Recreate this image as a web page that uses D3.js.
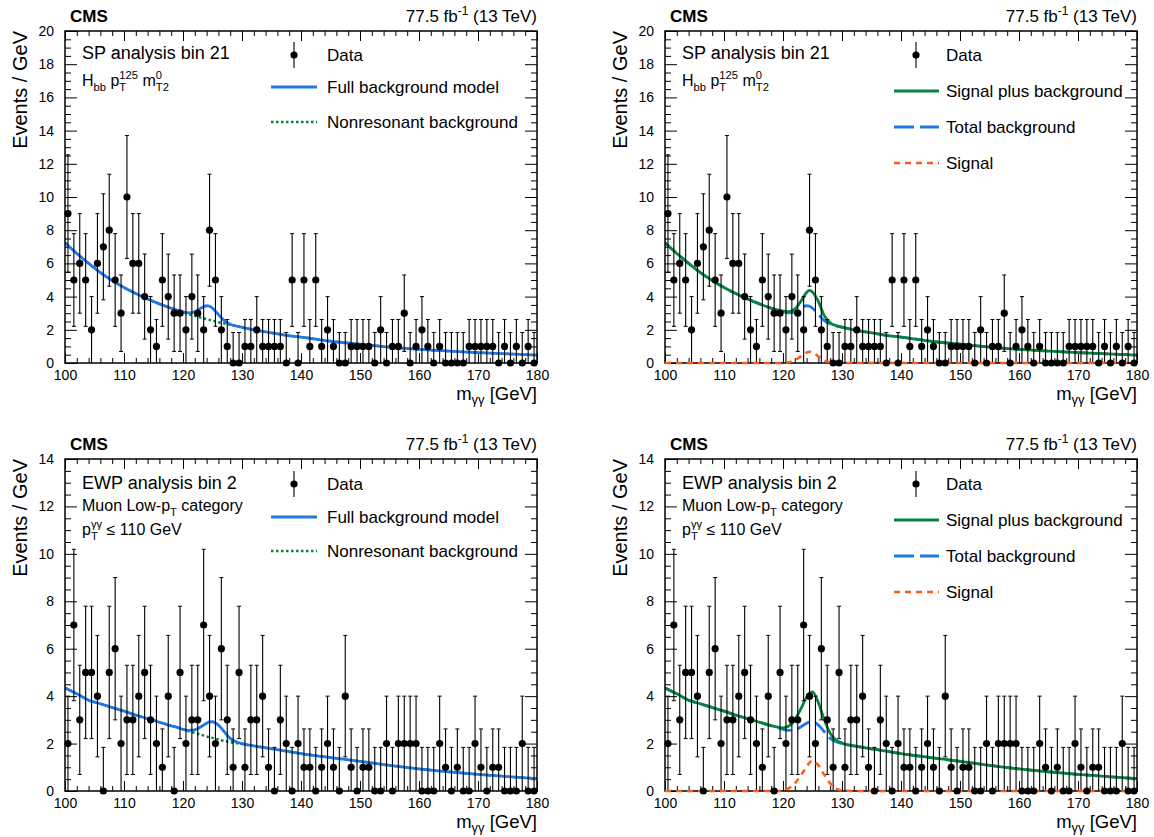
<!DOCTYPE html>
<html lang="en">
<head>
<meta charset="utf-8">
<title>CMS diphoton mass fits</title>
<script src="https://d3js.org/d3.v7.min.js"></script>
<style>
  body { margin: 0; background: #fff; }
  text { font-family: "Liberation Sans", Arial, Helvetica, sans-serif; fill: #000; white-space: pre; }
</style>
</head>
<body>
<script>
// ---------------- data ----------------
var massMin = 100, massMax = 180;
var binCenters = d3.range(100.5, 180, 1);   // 1 GeV bins

var countsSP = [9, 5, 6, 5, 2, 6, 7, 8, 5, 3,
                10, 6, 6, 4, 2, 1, 5, 4, 3, 3,
                2, 4, 3, 2, 8, 5, 2, 1, 0, 0,
                1, 1, 2, 1, 1, 1, 1, 0, 5, 0,
                5, 1, 5, 1, 2, 1, 0, 0, 1, 1,
                1, 1, 0, 2, 0, 1, 1, 3, 0, 1,
                2, 1, 0, 1, 0, 0, 0, 0, 1, 1,
                1, 1, 1, 0, 1, 0, 1, 0, 1, 0];

var countsEWP = [2, 7, 3, 5, 5, 4, 0, 5, 6, 2,
                 3, 3, 4, 5, 3, 2, 1, 4, 0, 5,
                 2, 3, 3, 7, 4, 2, 6, 3, 1, 5,
                 1, 3, 3, 4, 1, 0, 3, 2, 0, 2,
                 1, 1, 0, 1, 2, 1, 0, 4, 1, 0,
                 1, 1, 0, 0, 2, 0, 2, 2, 2, 2,
                 0, 0, 0, 2, 1, 0, 1, 0, 0, 2,
                 1, 0, 1, 1, 0, 0, 0, 2, 0, 0];

// mass points where the fit curves were read
var curveMass = [100, 102, 104, 106, 108, 110, 112, 114, 116, 118, 119, 120, 121, 122, 123, 124, 124.5, 125,
                 126, 127, 128, 129, 130, 132, 134, 136, 138, 140, 145, 150, 155, 160, 165, 170, 175, 180];

var nonresSP = [7.25, 6.6, 6.0, 5.45, 4.97, 4.55, 4.18, 3.85, 3.56, 3.3, 3.17, 3.05, 2.94, 2.84, 2.74, 2.64, 2.6, 2.55,
                2.46, 2.38, 2.3, 2.22, 2.15, 2.0, 1.87, 1.76, 1.64, 1.56, 1.31, 1.13, 0.96, 0.82, 0.72, 0.63, 0.55, 0.48];
var fullBkgSP = [7.25, 6.6, 6.0, 5.45, 4.97, 4.55, 4.18, 3.85, 3.56, 3.3, 3.18, 3.08, 3.02, 3.08, 3.3, 3.45, 3.42, 3.3,
                 2.92, 2.55, 2.34, 2.23, 2.15, 2.0, 1.87, 1.76, 1.64, 1.56, 1.31, 1.13, 0.96, 0.82, 0.72, 0.63, 0.55, 0.48];
var sigPlusBkgSP = [7.25, 6.6, 6.0, 5.45, 4.97, 4.55, 4.18, 3.85, 3.56, 3.31, 3.2, 3.12, 3.1, 3.25, 3.7, 4.25, 4.38, 4.28,
                    3.7, 2.85, 2.42, 2.25, 2.16, 2.0, 1.87, 1.76, 1.64, 1.56, 1.31, 1.13, 0.96, 0.82, 0.72, 0.63, 0.55, 0.48];
var signalSP = [0, 0, 0, 0, 0, 0, 0, 0, 0, 0, 0, 0, 0.04, 0.15, 0.4, 0.63, 0.68, 0.63,
                0.4, 0.15, 0.04, 0, 0, 0, 0, 0, 0, 0, 0, 0, 0, 0, 0, 0, 0, 0];

var nonresEWP = [4.35, 4.1, 3.83, 3.68, 3.52, 3.37, 3.2, 3.05, 2.9, 2.75, 2.68, 2.6, 2.52, 2.45, 2.38, 2.3, 2.27, 2.24,
                 2.17, 2.11, 2.06, 2.02, 1.98, 1.9, 1.82, 1.74, 1.66, 1.58, 1.41, 1.25, 1.08, 0.93, 0.81, 0.7, 0.61, 0.52];
var fullBkgEWP = [4.35, 4.1, 3.83, 3.68, 3.52, 3.37, 3.2, 3.05, 2.9, 2.75, 2.68, 2.6, 2.56, 2.58, 2.7, 2.86, 2.91, 2.92,
                  2.78, 2.5, 2.22, 2.08, 2.0, 1.9, 1.82, 1.74, 1.66, 1.58, 1.41, 1.25, 1.08, 0.93, 0.81, 0.7, 0.61, 0.52];
var sigPlusBkgEWP = [4.35, 4.1, 3.83, 3.68, 3.52, 3.37, 3.2, 3.05, 2.9, 2.76, 2.7, 2.66, 2.74, 3.0, 3.45, 3.95, 4.12, 4.18,
                     3.72, 3.0, 2.43, 2.15, 2.02, 1.9, 1.82, 1.74, 1.66, 1.58, 1.41, 1.25, 1.08, 0.93, 0.81, 0.7, 0.61, 0.52];
var signalEWP = [0, 0, 0, 0, 0, 0, 0, 0, 0, 0, 0, 0.03, 0.12, 0.32, 0.65, 1.02, 1.2, 1.28,
                 1.08, 0.68, 0.32, 0.1, 0.02, 0, 0, 0, 0, 0, 0, 0, 0, 0, 0, 0, 0, 0];

var xTickLabels = [100, 110, 120, 130, 140, 150, 160, 170, 180];
var yTicksSP = [0, 2, 4, 6, 8, 10, 12, 14, 16, 18, 20];
var yTicksEWP = [0, 2, 4, 6, 8, 10, 12, 14];

// ---------------- styling ----------------
var W = 1154, H = 837, frameW = 472, frameH = 332;
var blue = "#1e78e6", green = "#07833f", orange = "#ff5a1e";

var svg = d3.select("body").append("svg").attr("width", W).attr("height", H);

// Poisson-style interval used for the data points
function errLow(n) { return n === 0 ? 0 : Math.max(0, n - 0.5 - Math.sqrt(n + 0.25)); }
function errHigh(n) { return n === 0 ? 1.84 : n + 0.5 + Math.sqrt(n + 0.25); }

// text with ROOT-like sub/superscripts
function rich(g, x, y, parts, size, anchor, subShift) {
    var grp = g.append("g");
    var cx = 0;
    var sShift = subShift || 0.3;
    parts.forEach(function (p) {
        if (typeof p === "string") {
            var t = grp.append("text").attr("x", cx).attr("y", 0).attr("font-size", size).text(p);
            cx += t.node().getComputedTextLength();
        } else {
            var w = 0;
            if (p.sub) {
                var s = grp.append("text").attr("x", cx).attr("y", size * sShift)
                    .attr("font-size", size * 0.7).text(p.sub);
                w = Math.max(w, s.node().getComputedTextLength());
            }
            if (p.sup) {
                var u = grp.append("text").attr("x", cx).attr("y", -size * 0.42)
                    .attr("font-size", size * 0.7).text(p.sup);
                w = Math.max(w, u.node().getComputedTextLength());
            }
            cx += w;
        }
    });
    var dx = anchor === "end" ? -cx : 0;
    grp.attr("transform", "translate(" + (x + dx) + "," + y + ")");
    return grp;
}

var panels = [
    { left: 65, top: 31, counts: countsSP, yTicks: yTicksSP, nonres: nonresSP, full: fullBkgSP,
      sb: sigPlusBkgSP, sig: signalSP, withSignal: false,
      title: "SP analysis bin 21",
      lines: [[["H", { sub: "bb" }, " p", { sub: "T", sup: "125" }, " m", { sub: "T2", sup: "0" }], 55]] },
    { left: 665, top: 31, counts: countsSP, yTicks: yTicksSP, nonres: nonresSP, full: fullBkgSP,
      sb: sigPlusBkgSP, sig: signalSP, withSignal: true,
      title: "SP analysis bin 21",
      lines: [[["H", { sub: "bb" }, " p", { sub: "T", sup: "125" }, " m", { sub: "T2", sup: "0" }], 55]] },
    { left: 65, top: 459, counts: countsEWP, yTicks: yTicksEWP, nonres: nonresEWP, full: fullBkgEWP,
      sb: sigPlusBkgEWP, sig: signalEWP, withSignal: false,
      title: "EWP analysis bin 2",
      lines: [[["Muon Low-p", { sub: "T" }, " category"], 52], [["p", { sub: "T", sup: "\u03b3\u03b3" }, " \u2264 110 GeV"], 76]] },
    { left: 665, top: 459, counts: countsEWP, yTicks: yTicksEWP, nonres: nonresEWP, full: fullBkgEWP,
      sb: sigPlusBkgEWP, sig: signalEWP, withSignal: true,
      title: "EWP analysis bin 2",
      lines: [[["Muon Low-p", { sub: "T" }, " category"], 52], [["p", { sub: "T", sup: "\u03b3\u03b3" }, " \u2264 110 GeV"], 76]] }
];

panels.forEach(function (p, i) {
    var g = svg.append("g").attr("transform", "translate(" + p.left + "," + p.top + ")");
    var yMax = d3.max(p.yTicks);
    var x = d3.scaleLinear().domain([massMin, massMax]).range([0, frameW]);
    var y = d3.scaleLinear().domain([0, yMax]).range([frameH, 0]);

    g.append("clipPath").attr("id", "clip" + i)
        .append("rect").attr("width", frameW).attr("height", frameH);
    // signal may sit on the x axis, so its clip reaches a bit below the frame
    g.append("clipPath").attr("id", "clipS" + i)
        .append("rect").attr("width", frameW).attr("height", frameH + 3);

    // ticks: major + minor on all four sides, pointing inwards
    var xMinor = d3.range(massMin, massMax + 0.1, 2).filter(function (v) { return v % 10 !== 0; });
    var yMinor = d3.range(0, yMax, 0.5).filter(function (v) { return v % 2 !== 0; });

    var xb = g.append("g").attr("transform", "translate(0," + frameH + ")")
        .call(d3.axisBottom(x).tickValues(xTickLabels).tickSize(-10).tickSizeOuter(0).tickPadding(7));
    xb.attr("font-size", 14);
    g.append("g").attr("transform", "translate(0," + frameH + ")")
        .call(d3.axisBottom(x).tickValues(xMinor).tickSize(-5).tickSizeOuter(0).tickFormat(""));
    g.append("g").call(d3.axisTop(x).tickValues(xTickLabels).tickSize(-10).tickSizeOuter(0).tickFormat(""));
    g.append("g").call(d3.axisTop(x).tickValues(xMinor).tickSize(-5).tickSizeOuter(0).tickFormat(""));

    var yl = g.append("g").call(d3.axisLeft(y).tickValues(p.yTicks).tickSize(-12).tickSizeOuter(0).tickPadding(11));
    yl.attr("font-size", 14);
    g.append("g").call(d3.axisLeft(y).tickValues(yMinor).tickSize(-6).tickSizeOuter(0).tickFormat(""));
    g.append("g").attr("transform", "translate(" + frameW + ",0)")
        .call(d3.axisRight(y).tickValues(p.yTicks).tickSize(-12).tickSizeOuter(0).tickFormat(""));
    g.append("g").attr("transform", "translate(" + frameW + ",0)")
        .call(d3.axisRight(y).tickValues(yMinor).tickSize(-6).tickSizeOuter(0).tickFormat(""));
    g.selectAll(".domain").remove();
    g.selectAll(".tick line").attr("stroke", "#000");

    // curves
    var line = d3.line()
        .x(function (d) { return x(d[0]); })
        .y(function (d) { return y(d[1]); })
        .curve(d3.curveMonotoneX);
    var curves = g.append("g").attr("clip-path", "url(#clip" + i + ")").attr("fill", "none");

    if (p.withSignal) {
        curves.append("path").attr("d", line(d3.zip(curveMass, p.full)))
            .attr("stroke", blue).attr("stroke-width", 2.8).attr("stroke-dasharray", "14,6");
        curves.append("path").attr("d", line(d3.zip(curveMass, p.sb)))
            .attr("stroke", green).attr("stroke-width", 2.8);
    } else {
        curves.append("path").attr("d", line(d3.zip(curveMass, p.nonres)))
            .attr("stroke", green).attr("stroke-width", 2.5).attr("stroke-dasharray", "2.5,2.5");
        curves.append("path").attr("d", line(d3.zip(curveMass, p.full)))
            .attr("stroke", blue).attr("stroke-width", 2.8);
    }

    // data points with error bars
    var pts = g.append("g").attr("clip-path", "url(#clip" + i + ")");
    var data = d3.zip(binCenters, p.counts);
    pts.selectAll("line.bar").data(data).enter().append("line").attr("class", "bar")
        .attr("x1", function (d) { return x(d[0]); }).attr("x2", function (d) { return x(d[0]); })
        .attr("y1", function (d) { return y(errLow(d[1])); }).attr("y2", function (d) { return y(errHigh(d[1])); })
        .attr("stroke", "#000").attr("stroke-width", 1.1);
    pts.selectAll("line.cap").data(data).enter().append("line").attr("class", "cap")
        .attr("x1", function (d) { return x(d[0]) - 2; }).attr("x2", function (d) { return x(d[0]) + 2; })
        .attr("y1", function (d) { return y(errHigh(d[1])); }).attr("y2", function (d) { return y(errHigh(d[1])); })
        .attr("stroke", "#000").attr("stroke-width", 1);
    pts.selectAll("line.capl").data(data.filter(function (d) { return errLow(d[1]) > 0; })).enter()
        .append("line").attr("class", "capl")
        .attr("x1", function (d) { return x(d[0]) - 2; }).attr("x2", function (d) { return x(d[0]) + 2; })
        .attr("y1", function (d) { return y(errLow(d[1])); }).attr("y2", function (d) { return y(errLow(d[1])); })
        .attr("stroke", "#000").attr("stroke-width", 1);

    // frame
    g.append("rect").attr("width", frameW).attr("height", frameH)
        .attr("fill", "none").attr("stroke", "#000").attr("stroke-width", 1.5);

    // signal drawn over the axis line, as in the reference
    if (p.withSignal) {
        g.append("g").attr("clip-path", "url(#clipS" + i + ")").append("path")
            .attr("d", line(d3.zip(curveMass, p.sig)))
            .attr("fill", "none").attr("stroke", orange).attr("stroke-width", 2.5)
            .attr("stroke-dasharray", "6,5");
    }

    g.append("g").selectAll("circle").data(data).enter().append("circle")
        .attr("cx", function (d) { return x(d[0]); })
        .attr("cy", function (d) { return y(d[1]); })
        .attr("r", 3.6).attr("fill", "#000");

    // header texts
    g.append("text").attr("x", 5).attr("y", -9).attr("font-size", 17).attr("font-weight", "bold").text("CMS");
    rich(g, frameW, -9, ["77.5 fb", { sup: "-1" }, " (13 TeV)"], 17, "end");

    // axis titles
    g.append("text").attr("transform", "translate(-38,0) rotate(-90)")
        .attr("text-anchor", "end").attr("font-size", 20).text("Events / GeV");
    rich(g, frameW, frameH + 37, ["m", { sub: "\u03b3\u03b3" }, " [GeV]"], 18.5, "end", 0.2);

    // category labels
    g.append("text").attr("x", 17).attr("y", p.top > 100 ? 30 : 28).attr("font-size", 18).text(p.title);
    p.lines.forEach(function (l) { rich(g, 17, l[1], l[0], 16); });

    // legend
    var lg = g.append("g");
    var mx, lx0, lx1, tx, rows;
    var dy = p.top > 100 ? 1 : 0;
    if (p.withSignal) {
        mx = 251; lx0 = 229; lx1 = 274; tx = 281;
        rows = [
            { label: "Signal plus background", y: 60 + dy, stroke: green, dash: null, w: 2.8 },
            { label: "Total background", y: 96 + dy, stroke: blue, dash: "20,6", w: 2.8 },
            { label: "Signal", y: 132 + dy, stroke: orange, dash: "6,5", w: 2.5 }
        ];
    } else {
        mx = 229; lx0 = 206; lx1 = 252; tx = 262;
        rows = [
            { label: "Full background model", y: 56 + dy * 2, stroke: blue, dash: null, w: 2.8 },
            { label: "Nonresonant background", y: 91 + dy, stroke: green, dash: "2.5,2.5", w: 2.5 }
        ];
    }
    var dataY = 24 + dy;
    lg.append("line").attr("x1", mx).attr("x2", mx).attr("y1", dataY - 13).attr("y2", dataY + 13)
        .attr("stroke", "#000").attr("stroke-width", 1.1);
    lg.append("circle").attr("cx", mx).attr("cy", dataY).attr("r", 3.6).attr("fill", "#000");
    lg.append("text").attr("x", tx).attr("y", dataY + 6).attr("font-size", 17).text("Data");
    rows.forEach(function (r) {
        lg.append("line").attr("x1", lx0).attr("x2", lx1).attr("y1", r.y).attr("y2", r.y)
            .attr("stroke", r.stroke).attr("stroke-width", r.w)
            .attr("stroke-dasharray", r.dash);
        lg.append("text").attr("x", tx).attr("y", r.y + 6).attr("font-size", 17).text(r.label);
    });
});
</script>
</body>
</html>
